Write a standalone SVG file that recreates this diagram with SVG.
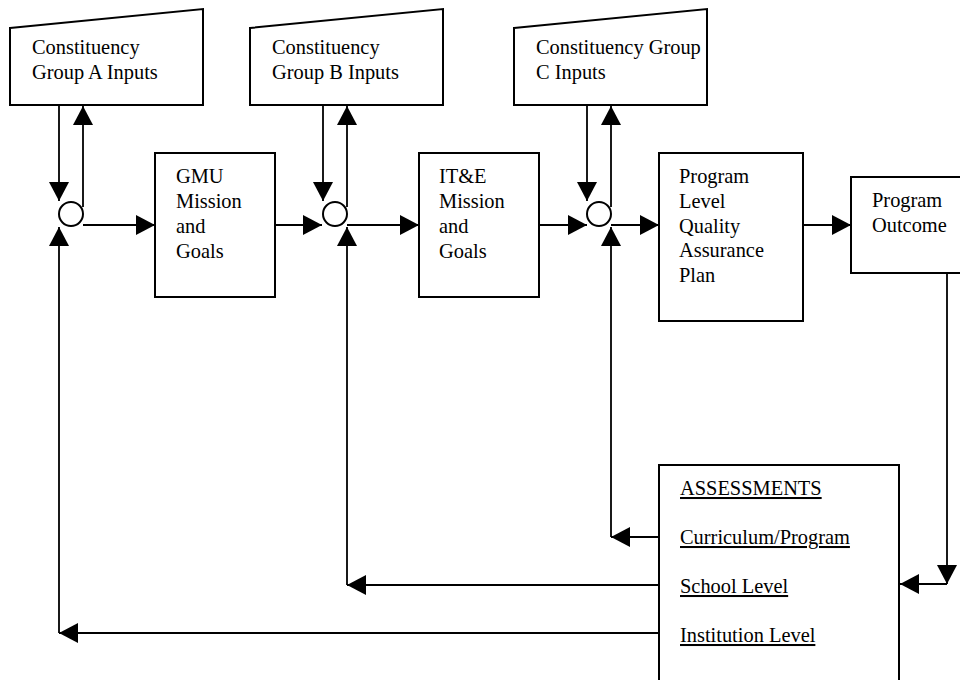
<svg xmlns="http://www.w3.org/2000/svg" width="960" height="680" viewBox="0 0 960 680">
<defs>
<marker id="ah" markerUnits="userSpaceOnUse" viewBox="0 0 19 20" markerWidth="19" markerHeight="20" refX="19" refY="10" orient="auto">
<path d="M0,0 L19,10 L0,20 z" fill="#000"/>
</marker>
<style>
.shape{fill:#fff;stroke:#000;stroke-width:2}
.t{font-family:"Liberation Serif","Times New Roman",serif;font-size:20.4px;fill:#000}
.u{text-decoration:underline}
.c line, .c path{stroke:#000;stroke-width:1.8;fill:none}
.a{marker-end:url(#ah)}
</style>
</defs>
<rect width="960" height="680" fill="#fff"/>

<g id="groupA">
<polygon class="shape" points="10,28 203,9 203,105 10,105"/>
<text class="t" x="32" y="54">Constituency</text>
<text class="t" x="32" y="79">Group A Inputs</text>
</g>
<g id="groupB">
<polygon class="shape" points="250,28 443,9 443,105 250,105"/>
<text class="t" x="272" y="54">Constituency</text>
<text class="t" x="272" y="79">Group B Inputs</text>
</g>
<g id="groupC">
<polygon class="shape" points="514,28 707,9 707,105 514,105"/>
<text class="t" x="536" y="54">Constituency Group</text>
<text class="t" x="536" y="79">C Inputs</text>
</g>

<g id="sumA"><circle class="shape" cx="71" cy="214" r="12"/></g>
<g id="sumB"><circle class="shape" cx="335" cy="214" r="12"/></g>
<g id="sumC"><circle class="shape" cx="599" cy="214" r="12"/></g>

<g id="gmu">
<rect class="shape" x="155" y="153" width="120" height="144"/>
<text class="t" x="176" y="183">GMU</text>
<text class="t" x="176" y="208">Mission</text>
<text class="t" x="176" y="233">and</text>
<text class="t" x="176" y="258">Goals</text>
</g>
<g id="ite">
<rect class="shape" x="419" y="153" width="120" height="144"/>
<text class="t" x="439" y="183">IT&amp;E</text>
<text class="t" x="439" y="208">Mission</text>
<text class="t" x="439" y="233">and</text>
<text class="t" x="439" y="258">Goals</text>
</g>
<g id="plqap">
<rect class="shape" x="659" y="153" width="144" height="168"/>
<text class="t" x="679" y="183">Program</text>
<text class="t" x="679" y="208">Level</text>
<text class="t" x="679" y="233">Quality</text>
<text class="t" x="679" y="257">Assurance</text>
<text class="t" x="679" y="282">Plan</text>
</g>
<g id="outcome">
<rect class="shape" x="851" y="177" width="120" height="96"/>
<text class="t" x="872" y="207">Program</text>
<text class="t" x="872" y="232">Outcome</text>
</g>
<g id="assessments">
<rect class="shape" x="659" y="465" width="240" height="240"/>
<text class="t u" x="680" y="495">ASSESSMENTS</text>
<text class="t u" x="680" y="544">Curriculum/Program</text>
<text class="t u" x="680" y="593">School Level</text>
<text class="t u" x="680" y="642">Institution Level</text>
</g>

<g id="connectors" class="c">
<line class="a" x1="59" y1="105" x2="59" y2="201"/>
<line class="a" x1="83" y1="207" x2="83" y2="106"/>
<line class="a" x1="83" y1="225" x2="155" y2="225"/>
<line class="a" x1="275" y1="225" x2="322" y2="225"/>
<line class="a" x1="323" y1="105" x2="323" y2="201"/>
<line class="a" x1="347" y1="207" x2="347" y2="106"/>
<line class="a" x1="347" y1="225" x2="419" y2="225"/>
<line class="a" x1="539" y1="225" x2="587" y2="225"/>
<line class="a" x1="587" y1="105" x2="587" y2="201"/>
<line class="a" x1="611" y1="207" x2="611" y2="106"/>
<line class="a" x1="611" y1="225" x2="659" y2="225"/>
<line class="a" x1="803" y1="225" x2="851" y2="225"/>
<line class="a" x1="947" y1="273" x2="947" y2="584"/>
<line class="a" x1="947" y1="584" x2="900" y2="584"/>
<line class="a" x1="659" y1="537" x2="611" y2="537"/>
<line class="a" x1="611" y1="537" x2="611" y2="227"/>
<line class="a" x1="659" y1="585" x2="347" y2="585"/>
<line class="a" x1="347" y1="585" x2="347" y2="227"/>
<line class="a" x1="659" y1="633" x2="59" y2="633"/>
<line class="a" x1="59" y1="633" x2="59" y2="227"/>
</g>
</svg>
